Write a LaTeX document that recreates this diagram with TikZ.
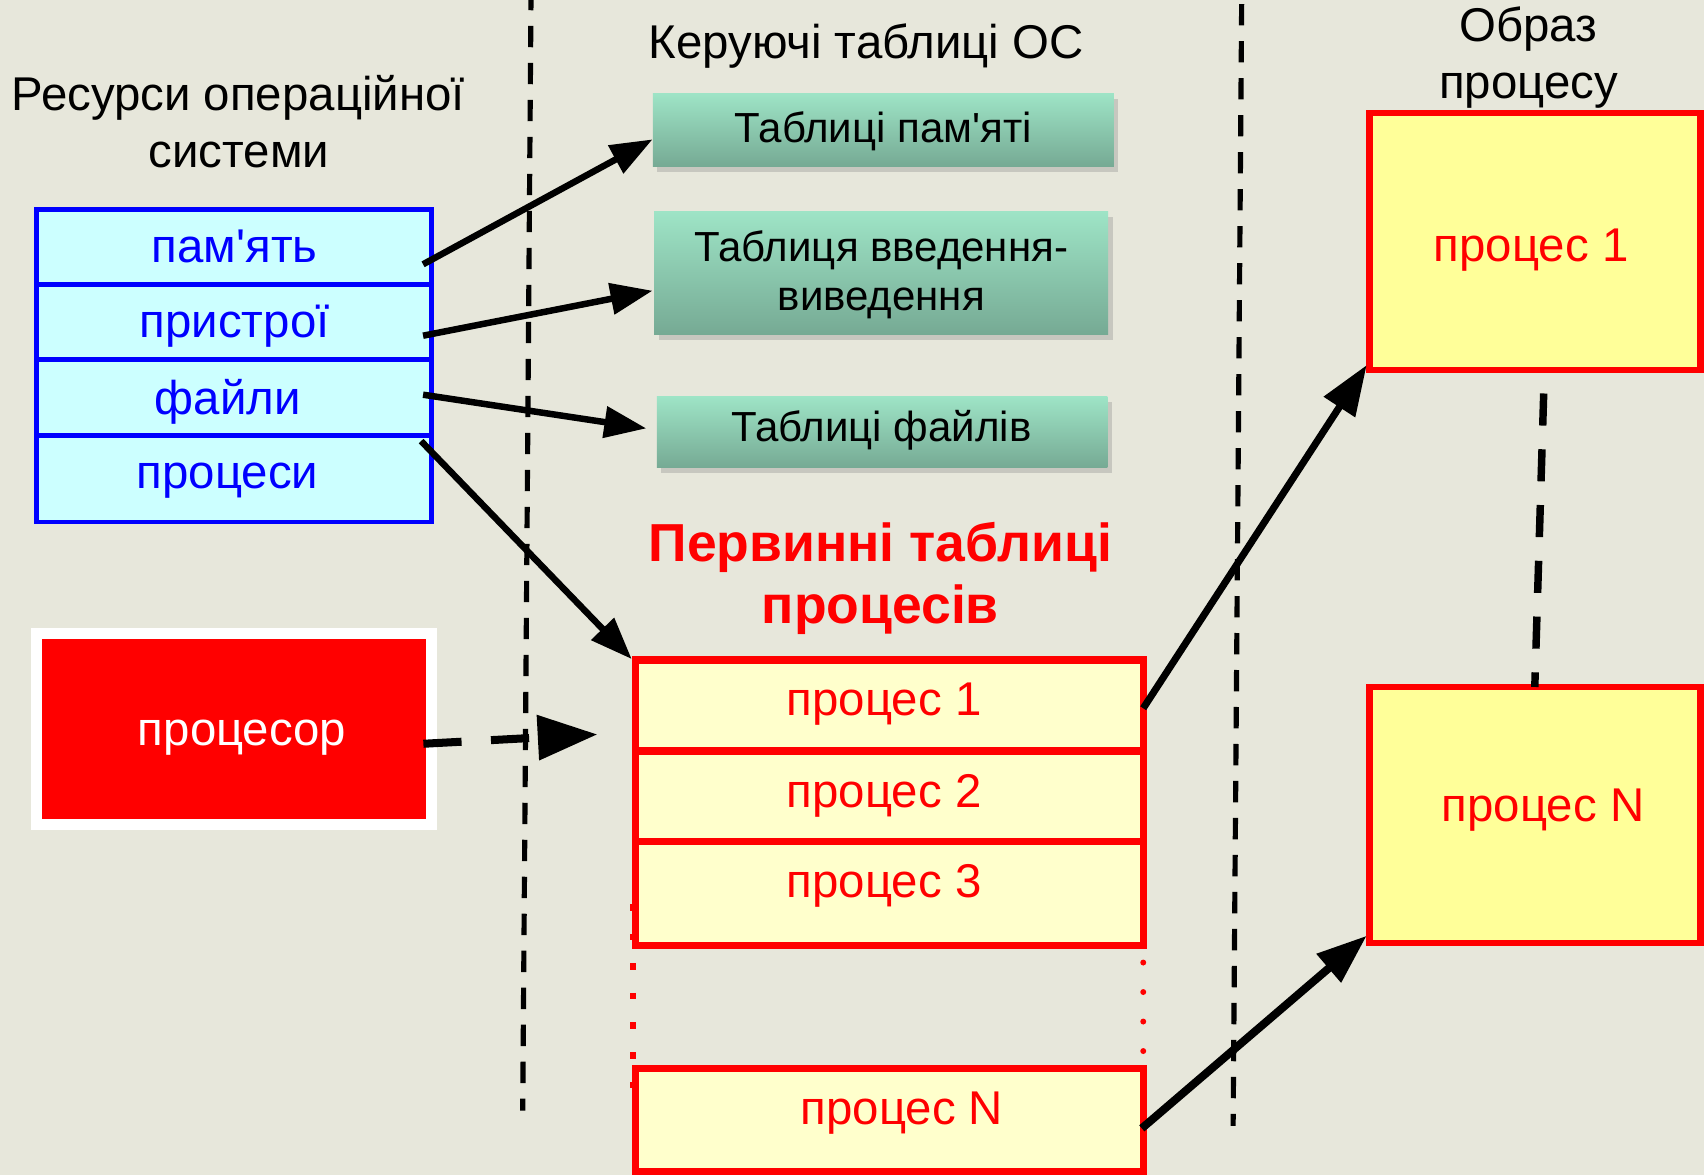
\documentclass[tikz,border=0pt]{standalone}
\usepackage{fontspec}
\setmainfont{Liberation Sans}[Ligatures=TeXOff]
\usetikzlibrary{arrows.meta,calc,shadows}

\definecolor{paper}{RGB}{231,231,219}
\definecolor{rescyan}{RGB}{204,255,255}
\definecolor{resblue}{RGB}{0,0,255}
\definecolor{tabtop}{RGB}{158,228,198}
\definecolor{tabbottom}{RGB}{118,170,148}
\definecolor{ptfill}{RGB}{255,255,204}
\definecolor{imgfill}{RGB}{255,255,153}
\definecolor{hot}{RGB}{255,0,0}

\begin{document}
\begin{tikzpicture}[x=0.01cm, y=-0.01cm,
  every node/.style={inner sep=0pt, outer sep=0pt},
  lbl/.style={font=\fontsize{12.4}{14}\selectfont, anchor=base},
  tablbl/.style={font=\fontsize{11}{13}\selectfont, anchor=base},
  headlbl/.style={font=\bfseries\fontsize{14}{16}\selectfont, anchor=base, text=hot},
  resrow/.style={draw=resblue, line width=1.3pt, fill=rescyan, minimum width=3.632cm},
  ostab/.style={top color=tabtop, bottom color=tabbottom,
    drop shadow={shadow xshift=1.2pt, shadow yshift=-1.5pt, opacity=0.3}},
  prow/.style={draw=hot, line width=1.95pt, fill=ptfill, minimum width=4.667cm},
  imgbox/.style={draw=hot, line width=1.7pt, fill=imgfill, minimum width=3.04cm},
  divider/.style={line width=1.35pt, dash pattern=on 5.58pt off 4.1pt},
  link/.style={line width=1.7pt, -{Triangle[length=11pt, width=8pt]}},
  imglink/.style={line width=#1, -{Triangle[length=13.1pt, width=9.4pt]}},
  cpulink/.style={line width=2.1pt, dash pattern=on 10pt off 7.7pt,
    -{Triangle[length=15.6pt, width=11.4pt]}},
  imgdash/.style={line width=1.95pt, dash pattern=on 8.4pt off 6.2pt},
]
% paper
\fill[paper] (0,0) rectangle (1568,1081);
\useasboundingbox (0,0) rectangle (1568,1081);

% column dividers
\coordinate (d1a) at (488.6,0);
\coordinate (d1b) at (481,1022);
\coordinate (d2a) at (1142.6,0);
\coordinate (d2b) at (1134.7,1036);
\draw[divider, dash phase=2.9pt] (d1a) -- (d1b);
\draw[divider, dash phase=8.6pt] (d2a) -- (d2b);

% column headings
\node[lbl] (restitleA) at (219.2,102) {Ресурси операційної};
\node[lbl] (restitleB) at (219.8,154.5) {системи};
\node[lbl] (ostitle) at (797,54) {Керуючі таблиці ОС};
\node[lbl] (imgtitleA) at (1406.5,38.3) {Образ};
\node[lbl] (imgtitleB) at (1406.4,90.5) {процесу};

% resources of the OS
\node[resrow, minimum height=0.69cm]  (r1) at (215.1,227.1) {};
\node[resrow, minimum height=0.69cm]  (r2) at (215.1,296.1) {};
\node[resrow, minimum height=0.699cm] (r3) at (215.1,365.55) {};
\node[resrow, minimum height=0.798cm] (r4) at (215.1,440.4) {};
\node[lbl, text=resblue] (r1t) at (215.9,241.6) {пам'ять};
\node[lbl, text=resblue] (r2t) at (215.9,310.6) {пристрої};
\node[lbl, text=resblue] (r3t) at (209.5,381) {файли};
\node[lbl, text=resblue] (r4t) at (209.5,449.3) {процеси};

% processor
\node[draw=white, line width=2.79pt, fill=hot, minimum width=3.637cm,
      minimum height=1.7535cm] (cpu) at (215.25,670.8) {};
\node[lbl, text=white] (cput) at (222.8,686) {процесор};

% control tables of the OS
\node[ostab, minimum width=4.24cm, minimum height=0.669cm] (g1) at (812.8,119.35) {};
\node[ostab, minimum width=4.174cm, minimum height=1.126cm] (g2) at (810.8,251.1) {};
\node[ostab, minimum width=4.142cm, minimum height=0.65cm] (g3) at (811.7,397.5) {};
\node[tablbl] (g1t) at (812.8,131.3) {Таблиці пам'яті};
\node[tablbl] (g2ta) at (811,241) {Таблиця введення-};
\node[tablbl] (g2tb) at (811,285.3) {виведення};
\node[tablbl] (g3t) at (811,406.4) {Таблиці файлів};

% primary process tables
\node[headlbl] (headA) at (810,517) {Первинні таблиці};
\node[headlbl] (headB) at (810,574) {процесів};

\coordinate (dotL1) at (582.6,832);
\coordinate (dotL2) at (582.6,1001);
\draw[hot, line width=1.6pt, dash pattern=on 1.7pt off 6.04pt] (dotL1) -- (dotL2);

\node[prow, minimum height=0.835cm] (p1) at (818.5,649.25) {};
\node[prow, minimum height=0.833cm] (p2) at (818.5,732.65) {};
\node[prow, minimum height=0.957cm] (p3) at (818.5,822.15) {};
\node[prow, minimum height=0.949cm] (pN) at (818.5,1030.5) {};
\node[lbl, text=hot] (p1t) at (813.6,658.7) {процес 1};
\node[lbl, text=hot] (p2t) at (813.6,742.8) {процес 2};
\node[lbl, text=hot] (p3t) at (813.6,826.1) {процес 3};
\node[lbl, text=hot] (pNt) at (830,1034.3) {процес N};

\coordinate (dotR1) at (1052,885.7);
\coordinate (dotR2) at (1052,968);
\draw[hot, line width=1.56pt, line cap=round, dash pattern=on 0pt off 7.72pt] (dotR1) -- (dotR2);

% process images
\node[imgbox, minimum height=2.362cm] (i1) at (1412.5,222.1) {};
\node[imgbox, minimum height=2.353cm] (iN) at (1412.5,749.85) {};
\node[lbl, text=hot] (i1t) at (1408.9,240.8) {процес 1};
\node[lbl, text=hot] (iNt) at (1419.9,756.1) {процес N};

% links
\draw[link] ($(r1.east)+(-7.5,16.1)$) -- ($(g1.west)+(-0.2,8.9)$);
\draw[link] ($(r2.east)+(-7.5,12.8)$) -- ($(g2.west)+(-1.5,16.4)$);
\draw[link] ($(r3.east)+(-7.5,-2.35)$) -- ($(g3.west)+(-9.7,-3.3)$);
\draw[link] ($(r4.north east)+(-9.3,5.4)$) -- ($(p1.north west)+(-3.7,-1)$);
\draw[cpulink] ($(cpu.east)+(-7.6,13.6)$) -- ($(p1.west)+(-35.3,26.55)$);
\draw[imglink=1.85pt] ($(p1.east)+(0,2.5)$) -- ($(i1.south west)+(-2.8,-4.3)$);
\draw[imglink=2.1pt] ($(pN.east)+(-1.3,7.8)$) -- ($(iN.south west)+(-2.8,-6.5)$);
\draw[imgdash] ($(i1.south)+(8,21.8)$) -- ($(iN.north)+(-0.2,0)$);
\end{tikzpicture}
\end{document}
